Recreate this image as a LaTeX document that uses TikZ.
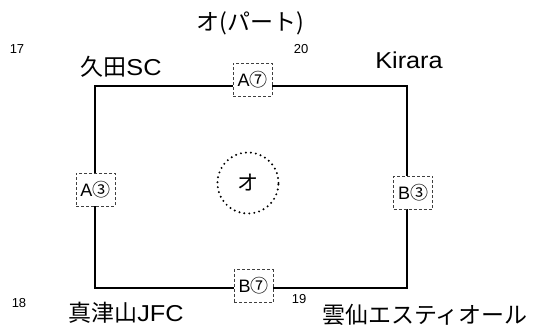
\documentclass[tikz,border=0pt]{standalone}
\usepackage{fontspec}
\setmainfont{Noto Sans CJK JP}
\newfontfamily\lat{Liberation Sans}[FakeStretch=1.1]
\newfontfamily\numf{Liberation Sans}
\begin{document}
\begin{tikzpicture}[x=1pt,y=-1pt,
  big/.style={font=\fontsize{23}{26}\selectfont, inner sep=0pt, anchor=base},
  num/.style={font=\numf\fontsize{13}{15}\selectfont, inner sep=0pt, anchor=base},
  tag/.style={draw=black!75, dash pattern=on 3pt off 2pt, line width=0.8pt, fill=white,
    minimum width=39pt, minimum height=33pt, inner sep=0pt, font=\fontsize{18}{20}\selectfont},
  edge/.style={line width=1.6pt, line join=miter},
  ring/.style={circle, draw, line width=2.2pt, dash pattern=on 0pt off 5pt, line cap=round,
    minimum size=61pt, inner sep=0pt, font=\fontsize{21}{24}\selectfont}]
\useasboundingbox (0,0) rectangle (534,327);
% field
\coordinate (tl) at (95,86);
\coordinate (tr) at (407,86);
\coordinate (br) at (407,288);
\coordinate (bl) at (95,288);
\draw[edge] (tl) -- (tr) -- (br) -- (bl) -- cycle;
% match tags
\node[tag] (a7) at (252.5,79.5) {{\numf A}⑦};
\node[tag] (b7) at (253.5,286) {{\numf B}⑦};
\node[tag] (a3) at (95.5,189.5) {{\numf A}③};
\node[tag] (b3) at (413,192.5) {{\numf B}③};
% centre
\node[ring] (o) at (248,183) {オ};
% title
\node[big] (title) at (250,30) {オ(パート)};
% teams
\node[num] (n17) at (17,53) {17};
\node[big] (t17) at (121,75) {久田{\lat SC}};
\node[num] (n20) at (301,53) {20};
\node[big] (t20) at (409,68) {{\lat Kirara}};
\node[num] (n18) at (19,307) {18};
\node[big] (t18) at (126,321) {真津山{\lat JFC}};
\node[num] (n19) at (299,303) {19};
\node[big] (t19) at (425,323) {雲仙エスティオール};
\end{tikzpicture}
\end{document}
